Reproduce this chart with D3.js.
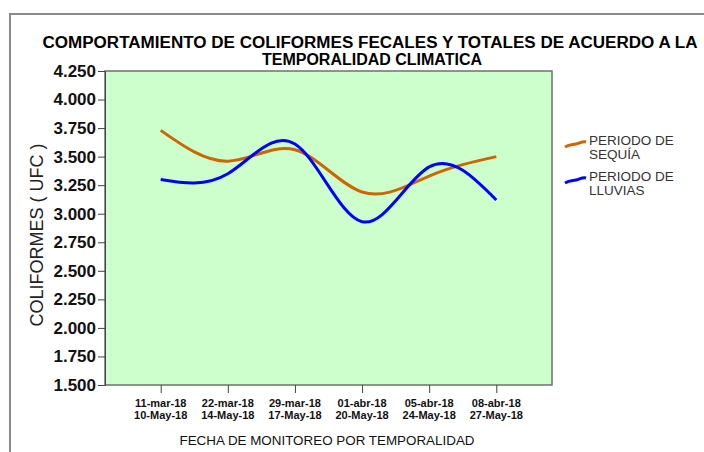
<!DOCTYPE html>
<html>
<head>
<meta charset="utf-8">
<script src="https://cdn.jsdelivr.net/npm/d3@7"></script>
<style>
  body { margin: 0; background: #fff; }
  svg { display: block; font-family: Arial, "Liberation Sans", sans-serif; }
</style>
</head>
<body>
<div class="canvas"></div>
<script>
// fechas de monitoreo (sequia / lluvias)
const fechasSequia = ['11-mar-18', '22-mar-18', '29-mar-18', '01-abr-18', '05-abr-18', '08-abr-18']
const fechasLluvias = ['10-May-18', '14-May-18', '17-May-18', '20-May-18', '24-May-18', '27-May-18']
const sequia = [3.73, 3.46, 3.56, 3.19, 3.33, 3.50]
const lluvias = [3.30, 3.35, 3.61, 2.93, 3.41, 3.12]
const yTicks = [1.5, 1.75, 2.0, 2.25, 2.5, 2.75, 3.0, 3.25, 3.5, 3.75, 4.0, 4.25]

const series = [
  { name: ['PERIODO DE', 'SEQUÍA'], values: sequia, color: '#cc6600' },
  { name: ['PERIODO DE', 'LLUVIAS'], values: lluvias, color: '#0000ff' }
]

const dims = { width: 704, height: 452 }
const plot = { left: 105, right: 552, top: 71, bottom: 385 }

const svg = d3.select('.canvas').append('svg')
  .attr('width', dims.width)
  .attr('height', dims.height)

// marco exterior
svg.append('path')
  .attr('d', `M10,${dims.height + 5} L10,14 L${dims.width + 5},14`)
  .attr('fill', 'none')
  .attr('stroke', '#8a8a8a')
  .attr('stroke-width', 2)

const x = d3.scalePoint()
  .domain(d3.range(fechasSequia.length))
  .range([plot.left, plot.right])
  .padding(0.83)

const y = d3.scaleLinear()
  .domain([1.5, 4.25])
  .range([plot.bottom, plot.top])

// fondo
svg.append('rect')
  .attr('x', plot.left)
  .attr('y', plot.top)
  .attr('width', plot.right - plot.left)
  .attr('height', plot.bottom - plot.top)
  .attr('fill', '#ccffcc')
  .attr('stroke', '#6f6f6f')
  .attr('stroke-width', 1.5)

// eje y
const yAxis = svg.append('g')
  .attr('transform', `translate(${plot.left},0)`)
  .call(d3.axisLeft(y).tickValues(yTicks).tickSize(7).tickPadding(2).tickFormat(d3.format('.3f')))
yAxis.select('.domain').attr('stroke', '#444')
yAxis.selectAll('.tick line').attr('stroke', '#444')
yAxis.selectAll('text')
  .attr('font-size', 17)
  .attr('font-weight', 'bold')
  .attr('fill', '#111')
  .attr('font-family', 'Arial, "Liberation Sans", sans-serif')

// eje x
const xAxis = svg.append('g')
  .attr('transform', `translate(0,${plot.bottom})`)
  .call(d3.axisBottom(x).tickSize(8).tickFormat(''))
xAxis.select('.domain').remove()
xAxis.selectAll('.tick line').attr('stroke', '#444')

const xLabels = svg.append('g')
  .selectAll('text')
  .data(fechasSequia)
  .enter()
  .append('text')
  .attr('text-anchor', 'middle')
  .attr('font-size', 11)
  .attr('font-weight', 'bold')
  .attr('fill', '#111')
xLabels.append('tspan')
  .attr('x', (d, i) => x(i))
  .attr('y', 407)
  .text(d => d)
xLabels.append('tspan')
  .attr('x', (d, i) => x(i))
  .attr('y', 419)
  .text((d, i) => fechasLluvias[i])

// titulos
svg.append('text')
  .attr('x', 370).attr('y', 48)
  .attr('text-anchor', 'middle')
  .attr('font-size', 16)
  .attr('font-weight', 'bold')
  .attr('fill', '#000')
  .attr('textLength', 655)
  .attr('lengthAdjust', 'spacingAndGlyphs')
  .text('COMPORTAMIENTO DE COLIFORMES FECALES Y TOTALES DE ACUERDO A LA')
svg.append('text')
  .attr('x', 372).attr('y', 65)
  .attr('text-anchor', 'middle')
  .attr('font-size', 16)
  .attr('font-weight', 'bold')
  .attr('fill', '#000')
  .text('TEMPORALIDAD CLIMATICA')

svg.append('text')
  .attr('x', 327).attr('y', 445)
  .attr('text-anchor', 'middle')
  .attr('font-size', 13)
  .attr('fill', '#111')
  .attr('textLength', 295)
  .attr('lengthAdjust', 'spacingAndGlyphs')
  .text('FECHA DE MONITOREO POR TEMPORALIDAD')

svg.append('text')
  .attr('transform', `translate(43,235) rotate(-90)`)
  .attr('text-anchor', 'middle')
  .attr('font-size', 18)
  .attr('fill', '#222')
  .text('COLIFORMES ( UFC )')

// lineas suavizadas
const line = d3.line()
  .x((d, i) => x(i))
  .y(d => y(d))
  .curve(d3.curveNatural)

svg.append('g')
  .selectAll('path')
  .data(series)
  .enter()
  .append('path')
  .attr('d', d => line(d.values))
  .attr('fill', 'none')
  .attr('stroke', d => d.color)
  .attr('stroke-width', 3)

// leyenda
const legendGroup = svg.append('g')
  .attr('transform', 'translate(564,144)')

const legendItem = legendGroup.selectAll('g')
  .data(series)
  .enter()
  .append('g')
  .attr('transform', (d, i) => `translate(0,${i * 36})`)

legendItem.append('path')
  .attr('d', 'M1,3 C6,0 9,1 12,0 C16,-1 19,-3 22,-2')
  .attr('fill', 'none')
  .attr('stroke', d => d.color)
  .attr('stroke-width', 3)

legendItem.append('text')
  .attr('font-size', 13.5)
  .attr('fill', '#333')
  .selectAll('tspan')
  .data(d => d.name)
  .enter()
  .append('tspan')
  .attr('x', 25)
  .attr('y', (d, i) => 1 + i * 14)
  .text(d => d)
</script>
</body>
</html>
